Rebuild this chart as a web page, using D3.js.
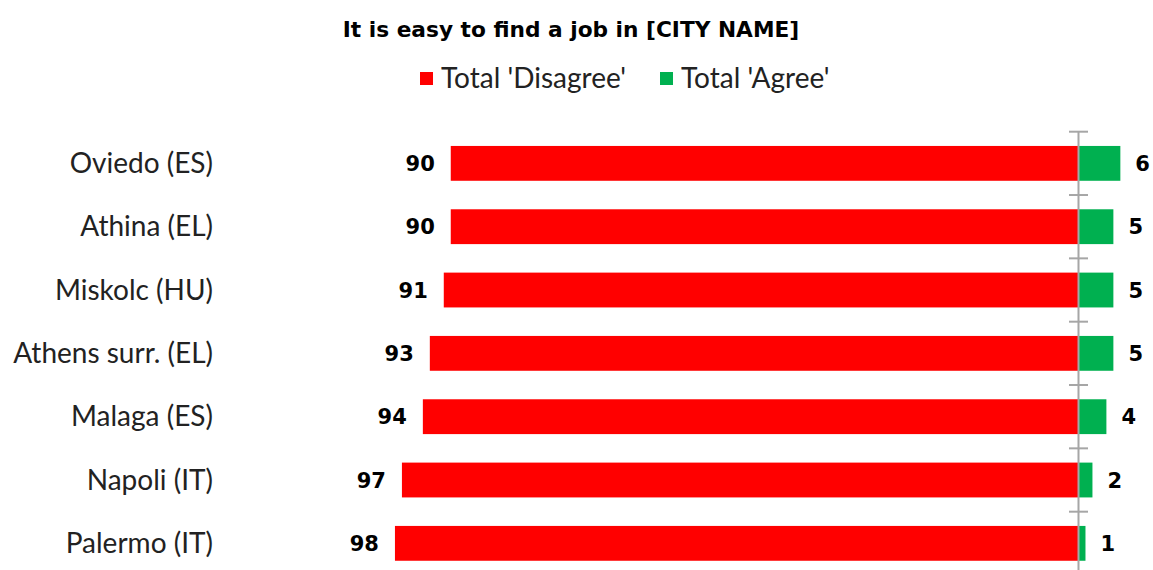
<!DOCTYPE html>
<html>
<head>
<meta charset="utf-8">
<script src="https://cdn.jsdelivr.net/npm/d3@7"></script>
<style>
  body { margin: 0; background: #fff; }
  svg { display: block; }
</style>
</head>
<body>
<svg id="chart" width="1153" height="570"></svg>
<script>
// Survey results per city (percent)
const cities = ["Oviedo (ES)", "Athina (EL)", "Miskolc (HU)", "Athens surr. (EL)", "Malaga (ES)", "Napoli (IT)", "Palermo (IT)"];
const disagree = [90, 90, 91, 93, 94, 97, 98];
const agree = [6, 5, 5, 5, 4, 2, 1];
const seriesNames = ["Total 'Disagree'", "Total 'Agree'"];
const seriesColors = ["#ff0000", "#00b050"];

const svg = d3.select("#chart");
const W = 1153, H = 570;
const labelFont = "Lato, 'Open Sans', sans-serif";
const valueFont = "'DejaVu Sans', Verdana, sans-serif";

// Diverging horizontal scale: disagree extends left of zero, agree to the right
const x = d3.scaleLinear().domain([-100, 100]).range([1078.5 - 697.5, 1078.5 + 697.5]);
const y = d3.scaleBand().domain(cities).range([131.7, 131.7 + 7 * 63.33]).paddingInner(0.45).paddingOuter(0.225);

// Title
svg.append("text")
  .attr("x", 571).attr("y", 37)
  .attr("text-anchor", "middle")
  .attr("font-family", valueFont).attr("font-weight", "bold").attr("font-size", 21.7)
  .text("It is easy to find a job in [CITY NAME]");

// Legend
const legendX = [420, 660];
seriesNames.forEach((name, i) => {
  const g = svg.append("g").attr("transform", `translate(${legendX[i]},0)`);
  g.append("rect").attr("x", 0).attr("y", 72).attr("width", 13).attr("height", 13).attr("fill", seriesColors[i]);
  g.append("text").attr("x", 21).attr("y", 88)
    .attr("font-family", labelFont).attr("font-size", 28).attr("fill", "#222")
    .text(name);
});

// Bars
const rows = cities.map((c, i) => ({ city: c, dis: disagree[i], agr: agree[i] }));

svg.append("g").selectAll("rect").data(rows).join("rect")
  .attr("x", d => x(-d.dis)).attr("y", d => y(d.city))
  .attr("width", d => x(0) - x(-d.dis)).attr("height", y.bandwidth())
  .attr("fill", seriesColors[0]);

svg.append("g").selectAll("rect").data(rows).join("rect")
  .attr("x", x(0)).attr("y", d => y(d.city))
  .attr("width", d => x(d.agr) - x(0)).attr("height", y.bandwidth())
  .attr("fill", seriesColors[1]);

// Category axis at zero with tick marks between rows
const axisG = svg.append("g");
axisG.append("line")
  .attr("x1", x(0)).attr("x2", x(0))
  .attr("y1", y.range()[0]).attr("y2", H)
  .attr("stroke", "#a6a6a6").attr("stroke-width", 2);
const boundaries = d3.range(cities.length + 1).map(i => y.range()[0] + i * y.step());
axisG.selectAll("line.tick").data(boundaries).join("line")
  .attr("class", "tick")
  .attr("x1", x(0) - 9.5).attr("x2", x(0) + 9.5)
  .attr("y1", d => d).attr("y2", d => d)
  .attr("stroke", "#a6a6a6").attr("stroke-width", 2);

// City labels
svg.append("g").selectAll("text").data(rows).join("text")
  .attr("x", 213).attr("y", d => y(d.city) + y.bandwidth() / 2)
  .attr("dy", "0.35em").attr("text-anchor", "end")
  .attr("font-family", labelFont).attr("font-size", 28).attr("fill", "#222")
  .text(d => d.city);

// Value labels
svg.append("g").selectAll("text").data(rows).join("text")
  .attr("x", d => x(-d.dis) - 16).attr("y", d => y(d.city) + y.bandwidth() / 2)
  .attr("dy", "0.36em").attr("text-anchor", "end")
  .attr("font-family", valueFont).attr("font-weight", "bold").attr("font-size", 21)
  .text(d => d.dis);

svg.append("g").selectAll("text").data(rows).join("text")
  .attr("x", d => x(d.agr) + 15).attr("y", d => y(d.city) + y.bandwidth() / 2)
  .attr("dy", "0.36em").attr("text-anchor", "start")
  .attr("font-family", valueFont).attr("font-weight", "bold").attr("font-size", 21)
  .text(d => d.agr);
</script>
</body>
</html>
